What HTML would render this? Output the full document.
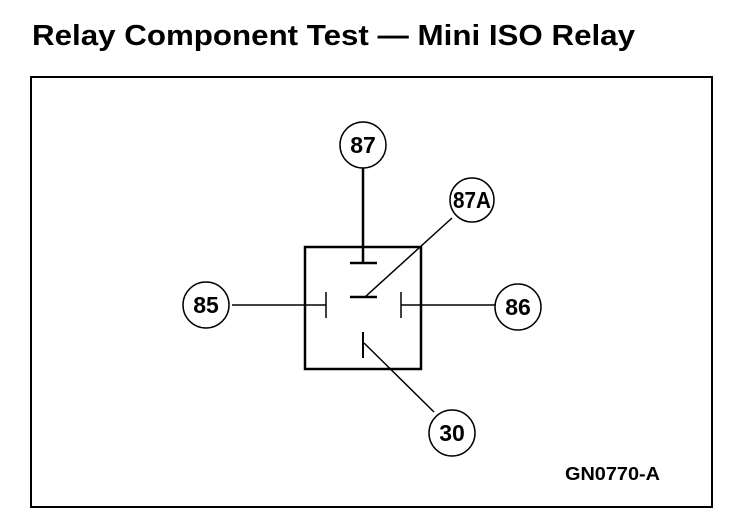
<!DOCTYPE html>
<html><head><style>
html,body{margin:0;padding:0;background:#fff;}
body{width:736px;height:530px;overflow:hidden;position:relative;}
</style></head><body>
<svg width="736" height="530" viewBox="0 0 736 530" xmlns="http://www.w3.org/2000/svg" style="position:absolute;left:0;top:0">
<text x="32" y="45" font-family="Liberation Sans, sans-serif" font-weight="bold" font-size="29" fill="#000" textLength="603" lengthAdjust="spacingAndGlyphs">Relay Component Test — Mini ISO Relay</text>
<rect x="31" y="77" width="681" height="430" fill="none" stroke="#000" stroke-width="2"/>
<rect x="305" y="247" width="116" height="122" fill="none" stroke="#000" stroke-width="2.5"/>
<g stroke="#000" fill="none">
<line x1="363" y1="168" x2="363" y2="263" stroke-width="2.5"/>
<line x1="350" y1="263" x2="377" y2="263" stroke-width="2.5"/>
<line x1="452" y1="218" x2="365" y2="297" stroke-width="1.5"/>
<line x1="350" y1="297" x2="377" y2="297" stroke-width="2.5"/>
<line x1="232" y1="305" x2="326" y2="305" stroke-width="1.5"/>
<line x1="326" y1="292" x2="326" y2="318" stroke-width="1.5"/>
<line x1="401" y1="305" x2="495" y2="305" stroke-width="1.5"/>
<line x1="401" y1="292" x2="401" y2="318" stroke-width="1.5"/>
<line x1="363" y1="332" x2="363" y2="358" stroke-width="2"/>
<line x1="364" y1="343" x2="434" y2="412" stroke-width="1.5"/>
<circle cx="363" cy="145" r="23" stroke-width="1.5"/>
<circle cx="472" cy="200" r="22" stroke-width="1.5"/>
<circle cx="206" cy="305" r="23" stroke-width="1.5"/>
<circle cx="518" cy="307" r="23" stroke-width="1.5"/>
<circle cx="452" cy="433" r="23" stroke-width="1.5"/>
</g>
<g font-family="Liberation Sans, sans-serif" font-weight="bold" font-size="23" fill="#000" text-anchor="middle">
<text x="363" y="153">87</text>
<text x="472" y="208" textLength="38" lengthAdjust="spacingAndGlyphs">87A</text>
<text x="206" y="313">85</text>
<text x="518" y="315">86</text>
<text x="452" y="441">30</text>
</g>
<text x="565" y="480" font-family="Liberation Sans, sans-serif" font-weight="bold" font-size="18" fill="#000" textLength="95" lengthAdjust="spacingAndGlyphs">GN0770-A</text>
</svg>
</body></html>
